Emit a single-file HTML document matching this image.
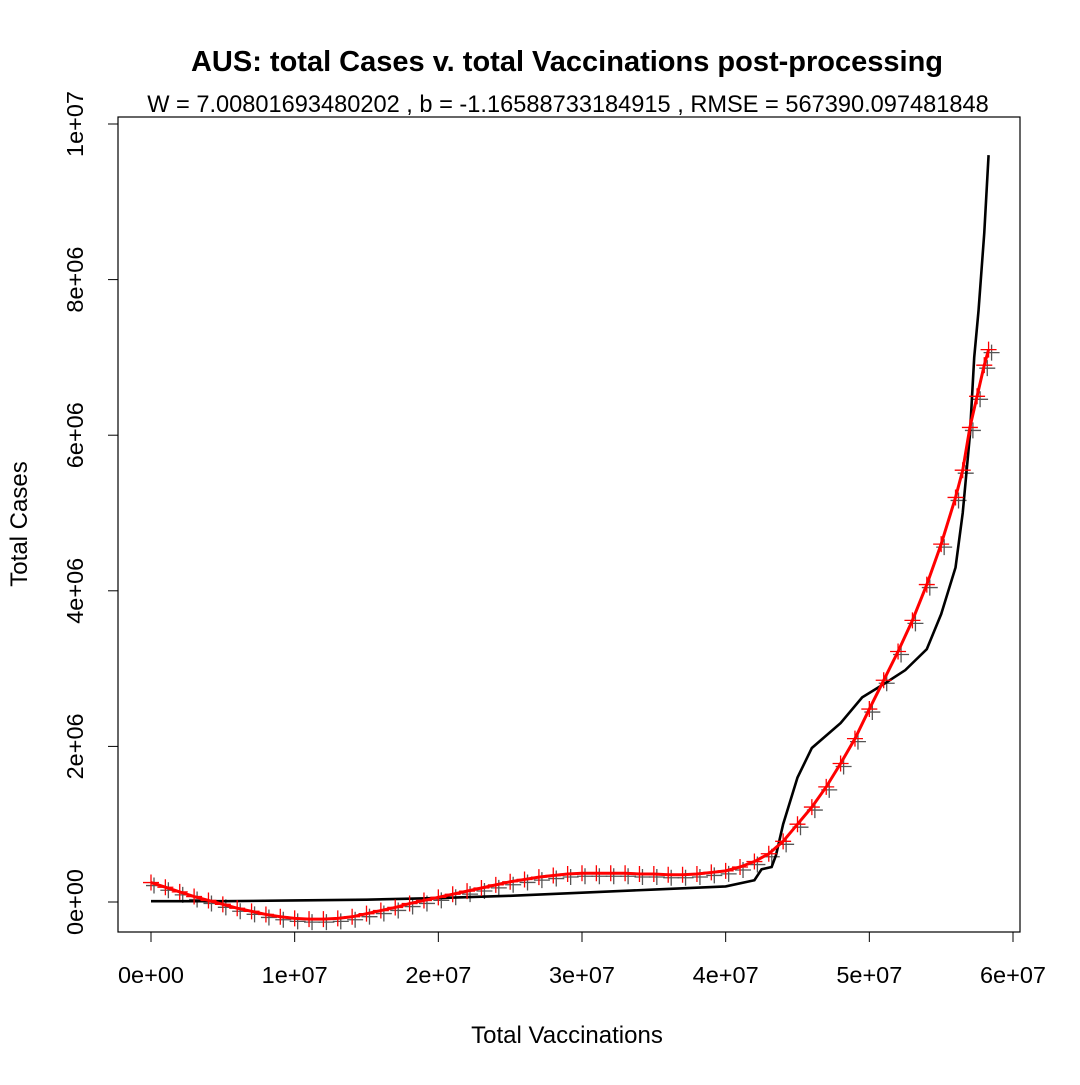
<!DOCTYPE html>
<html><head><meta charset="utf-8"><style>
body{margin:0;background:#fff;font-family:"Liberation Sans",sans-serif}
</style></head><body>
<svg id="chart" width="1080" height="1080" xmlns="http://www.w3.org/2000/svg">
<rect width="1080" height="1080" fill="#fff"/>
<text x="567" y="71" text-anchor="middle" font-size="29" font-weight="bold">AUS: total Cases v. total Vaccinations post-processing</text>
<text x="568" y="112" text-anchor="middle" font-size="23.6">W = 7.00801693480202 , b = -1.16588733184915 , RMSE = 567390.097481848</text>
<rect x="118" y="117" width="902" height="815" fill="none" stroke="#000" stroke-width="1.2"/>
<text x="567" y="1043" text-anchor="middle" font-size="24">Total Vaccinations</text>
<text transform="translate(27,524) rotate(-90)" text-anchor="middle" font-size="24">Total Cases</text>
<g id="axes"></g>
<g id="marks"></g>
</svg>
<script>
const xTicks=[0,1e7,2e7,3e7,4e7,5e7,6e7];
const xTickLabels=["0e+00","1e+07","2e+07","3e+07","4e+07","5e+07","6e+07"];
const yTicks=[0,2e6,4e6,6e6,8e6,1e7];
const yTickLabels=["0e+00","2e+06","4e+06","6e+06","8e+06","1e+07"];
// observed series (x in 1e7, y in 1e6)
const obsX=[0,0.5,1,1.5,2,2.5,3,3.5,4,4.2,4.25,4.32,4.35,4.4,4.5,4.6,4.8,4.95,5.1,5.25,5.4,5.5,5.6,5.65,5.7,5.73,5.76,5.8,5.83];
const obsY=[0.01,0.01,0.02,0.03,0.05,0.08,0.12,0.16,0.2,0.28,0.42,0.45,0.6,1.0,1.6,1.98,2.3,2.63,2.8,2.98,3.25,3.7,4.3,5.0,6.0,7.0,7.6,8.6,9.6];
// fitted series
const fitX=[0,0.1,0.2,0.3,0.4,0.5,0.6,0.7,0.8,0.9,1.0,1.1,1.2,1.3,1.4,1.5,1.6,1.7,1.8,1.9,2.0,2.1,2.2,2.3,2.4,2.5,2.6,2.7,2.8,2.9,3.0,3.1,3.2,3.3,3.4,3.5,3.6,3.7,3.8,3.9,4.0,4.1,4.2,4.3,4.4,4.5,4.6,4.7,4.8,4.9,5.0,5.1,5.2,5.3,5.4,5.5,5.6,5.65,5.7,5.75,5.8,5.83];
const fitY=[0.25,0.19,0.13,0.07,0.02,-0.03,-0.08,-0.12,-0.16,-0.19,-0.21,-0.22,-0.22,-0.21,-0.19,-0.15,-0.11,-0.07,-0.02,0.02,0.06,0.1,0.14,0.18,0.22,0.26,0.29,0.32,0.34,0.36,0.37,0.37,0.37,0.37,0.36,0.36,0.35,0.35,0.36,0.38,0.4,0.45,0.52,0.62,0.78,1.0,1.22,1.48,1.78,2.1,2.48,2.85,3.22,3.62,4.08,4.6,5.2,5.55,6.1,6.5,6.9,7.1];
const L=151,R=1013,T=124,B=902;
const sx=v=>L+(v-0)/6e7*(R-L);
const sy=v=>B-(v/1e7)*(B-T);
const NS="http://www.w3.org/2000/svg";
const ax=document.getElementById('axes'),mk=document.getElementById('marks');
function el(t,a,p){const e=document.createElementNS(NS,t);for(const k in a)e.setAttribute(k,a[k]);p.appendChild(e);return e;}
el('line',{x1:sx(0),x2:sx(6e7),y1:932,y2:932,stroke:'#000'},ax);
xTicks.forEach((v,i)=>{
 const t=el('line',{x1:sx(v),x2:sx(v),y1:932,y2:942,stroke:'#000'},ax);
 
 
 const l=el('text',{x:sx(v),y:983,'text-anchor':'middle','font-size':23.5},ax);l.textContent=xTickLabels[i];
 
 
});
el('line',{x1:118,x2:118,y1:sy(0),y2:sy(1e7),stroke:'#000'},ax);
yTicks.forEach((v,i)=>{
 const t=el('line',{x1:108,x2:118,y1:sy(v),y2:sy(v),stroke:'#000'},ax);
 
 
 const l=el('text',{transform:`translate(83,${sy(v)}) rotate(-90)`,'text-anchor':'middle','font-size':23.5},ax);l.textContent=yTickLabels[i];
 
 
});
function plus(x,y,c,p){const d=8;el('path',{d:`M${x-d},${y}H${x+d}M${x},${y-d}V${y+d}`,stroke:c,'stroke-width':1.3},p);}
const gp=el('g',{},mk);


fitX.forEach((x,i)=>plus(sx(x*1e7)+3,sy(fitY[i]*1e6)+3,'#555',gp));
const ol=el('polyline',{points:obsX.map((x,i)=>sx(x*1e7)+','+sy(obsY[i]*1e6)).join(' '),fill:'none',stroke:'#000','stroke-width':2.6},mk);


const fl=el('polyline',{points:fitX.map((x,i)=>sx(x*1e7)+','+sy(fitY[i]*1e6)).join(' '),fill:'none',stroke:'red','stroke-width':3},mk);


const rp=el('g',{},mk);


fitX.forEach((x,i)=>plus(sx(x*1e7),sy(fitY[i]*1e6),'red',rp));
</script>
</body></html>
